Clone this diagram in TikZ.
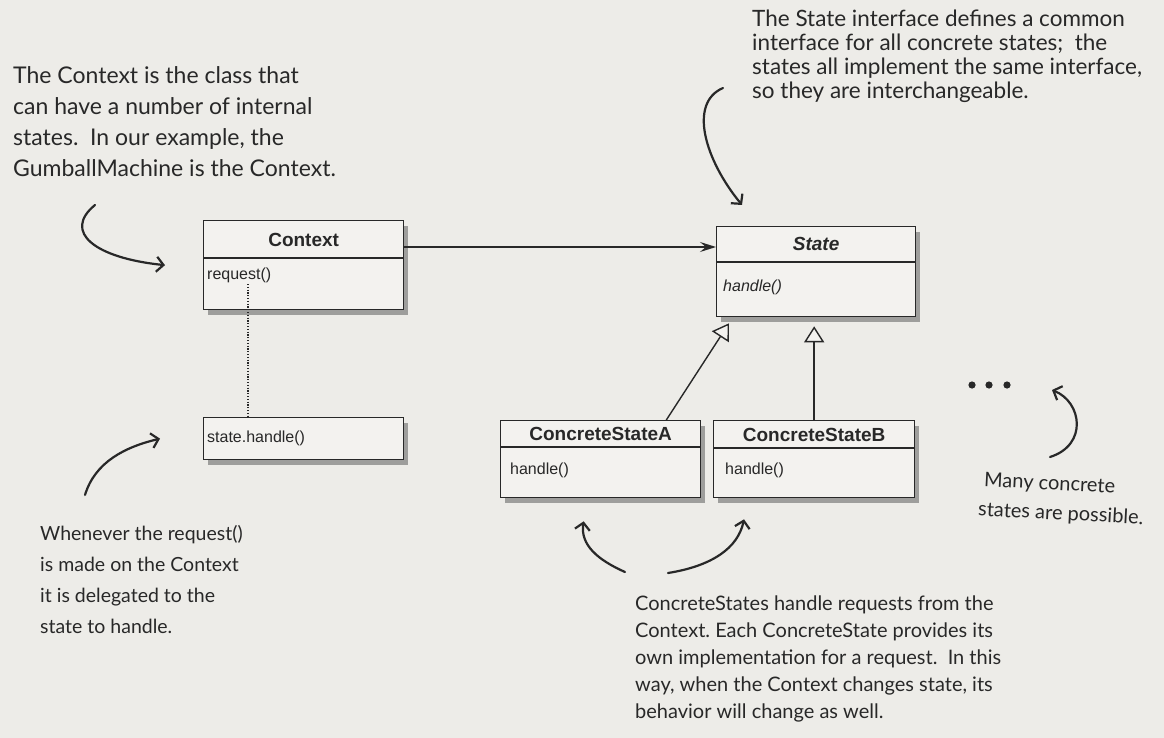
\documentclass[tikz,border=0pt]{standalone}
\usepackage{fontspec}
\setmainfont{Liberation Sans}
\newfontfamily\handfont{Lato}
\usetikzlibrary{arrows.meta,shadows}
\definecolor{bg}{RGB}{237,236,232}
\definecolor{boxfill}{RGB}{243,242,239}
\definecolor{ink}{RGB}{40,40,40}
\begin{document}
\begin{tikzpicture}[x=1pt,y=-1pt,
  umlbox/.style={draw=ink, line width=1.3pt, fill=boxfill, inner sep=0pt, anchor=north west,
    drop shadow={shadow xshift=4pt, shadow yshift=-5pt, fill=black!75, opacity=0.45}},
  divider/.style={draw=ink, line width=1.1pt},
  ttl/.style={font=\fontsize{19}{21}\selectfont\bfseries, text=ink, inner sep=0pt},
  meth/.style={font=\fontsize{16}{18}\selectfont, text=ink, inner sep=0pt, anchor=west},
  note/.style={font=\handfont\fontsize{20}{27}\selectfont, text=ink, align=left, inner sep=0pt, anchor=north west},
  hand/.style={draw=ink, line width=2.2pt, line cap=round, -{Straight Barb[length=7pt,width=15pt]}},
  assoc/.style={draw=ink, line width=1.4pt, -{Stealth[length=16pt,width=10pt,inset=6pt]}},
  inherit/.style={draw=ink, line width=1.4pt, -{Triangle[open,length=16pt,width=20pt,fill=boxfill]}}
]
\useasboundingbox (0,0) rectangle (1164,738);
\fill[bg] (0,0) rectangle (1164,738);

% UML boxes
\node[umlbox, minimum width=200pt, minimum height=89pt] (ctx) at (203,220) {};
\draw[divider] ([yshift=-38pt]ctx.north west) -- ([yshift=-38pt]ctx.north east);
\node[ttl] (ctxt) at ([yshift=-20pt]ctx.north) {Context};
\node[meth] (ctxm) at ([xshift=4pt,yshift=-55pt]ctx.north west) {request()};

\node[umlbox, minimum width=200pt, minimum height=42pt] (sh) at (203,417) {};
\node[meth] (sht) at ([xshift=4pt]sh.west) {state.handle()};

\node[umlbox, minimum width=199pt, minimum height=90pt] (st) at (716,226) {};
\draw[divider] ([yshift=-36pt]st.north west) -- ([yshift=-36pt]st.north east);
\node[ttl, font=\fontsize{19}{21}\selectfont\bfseries\itshape] (stt) at ([yshift=-18pt]st.north) {State};
\node[meth, font=\fontsize{16}{18}\selectfont\itshape] (stm) at ([xshift=7pt,yshift=-61pt]st.north west) {handle()};

\node[umlbox, minimum width=200pt, minimum height=77pt] (csa) at (500,420) {};
\draw[divider] ([yshift=-27pt]csa.north west) -- ([yshift=-27pt]csa.north east);
\node[ttl] (csat) at ([yshift=-14pt]csa.north) {ConcreteStateA};
\node[meth] (csam) at ([xshift=10pt,yshift=-50pt]csa.north west) {handle()};

\node[umlbox, minimum width=201pt, minimum height=77pt] (csb) at (713,420) {};
\draw[divider] ([yshift=-28pt]csb.north west) -- ([yshift=-28pt]csb.north east);
\node[ttl] (csbt) at ([yshift=-15pt]csb.north) {ConcreteStateB};
\node[meth] (csbm) at ([xshift=12pt,yshift=-50pt]csb.north west) {handle()};

% connectors
\draw[assoc] ([yshift=-27pt]ctx.north east) -- ([yshift=-21pt]st.north west);
\draw[inherit] ([xshift=-35pt]csa.north east) -- ([xshift=13pt,yshift=-6pt]st.south west);
\coordinate (sB) at ([yshift=-9pt]st.south);
\draw[inherit] (csb.north) -- (sB -| csb.north);
\draw[ink, line width=1.2pt, dash pattern=on 1.2pt off 1.6pt] ([xshift=45pt,yshift=-64pt]ctx.north west) -- ([xshift=45pt]sh.north west);

% ellipsis
\fill[ink] (972,385) circle (3.6pt) (989,385) circle (3.6pt) (1007,385) circle (3.6pt);

% notes
\node[note, font=\handfont\fontsize{23}{31}\selectfont] (n1) at (13,66) {The Context is the class that\\can have a number of internal\\states.\ \ In our example, the\\GumballMachine is the Context.};
\node[note, font=\handfont\fontsize{22.5}{24}\selectfont] (n2) at (752,10) {The State interface defines a common\\interface for all concrete states;\ \ the\\states all implement the same interface,\\so they are interchangeable.};
\node[note, font=\handfont\fontsize{19.5}{31}\selectfont] (n3) at (40,525) {Whenever the request()\\is made on the Context\\it is delegated to the\\state to handle.};
\node[note] (n4) at (635,596) {ConcreteStates handle requests from the\\Context.\ Each ConcreteState provides its\\own implementation for a request.\ \ In this\\way, when the Context changes state, its\\behavior will change as well.};
\node[note, font=\handfont\fontsize{20}{24}\selectfont, rotate=-3, anchor=west] (n5a) at (984,481) {Many concrete};
\node[note, font=\handfont\fontsize{20}{24}\selectfont, rotate=-3, anchor=west] (n5b) at (978,510) {states are possible.};

% hand-drawn arrows
\coordinate (a1s) at (95,205);
\draw[hand] (a1s) .. controls (62,232) and (95,258) .. ([xshift=-38pt]ctx.west);
\coordinate (a2s) at (723,88);
\draw[hand] (a2s) .. controls (688,103) and (705,160) .. ([xshift=26pt,yshift=21pt]st.north west);
\coordinate (a3s) at (85,495);
\draw[hand] (a3s) .. controls (95,462) and (125,447) .. ([xshift=-43pt]sh.west);
\coordinate (a4s) at (625,572);
\draw[hand] (a4s) .. controls (598,560) and (580,545) .. ([xshift=-17pt,yshift=-23pt]csa.south);
\coordinate (a5s) at (668,573);
\draw[hand] (a5s) .. controls (712,566) and (738,548) .. ([xshift=31pt,yshift=-21pt]csb.south west);
\coordinate (a6s) at (1050,457);
\coordinate (a6e) at (1052,390);
\draw[hand] (a6s) .. controls (1088,445) and (1082,402) .. (a6e);
\end{tikzpicture}
\end{document}
